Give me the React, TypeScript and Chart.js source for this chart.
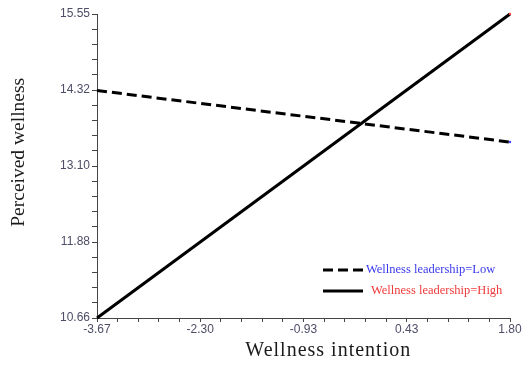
import React, { useEffect, useRef } from "react";
import { Chart, registerables } from "chart.js";

Chart.register(...registerables);

const xValues = [-3.67, 1.8];
const lowValues = [14.32, 13.49];
const highValues = [10.66, 15.55];
const seriesLabels = ["Wellness leadership=Low", "Wellness leadership=High"];
const xTickLabels = ["-3.67", "-2.30", "-0.93", "0.43", "1.80"];
const yTickLabels = ["10.66", "11.88", "13.10", "14.32", "15.55"];
const xTitle = "Wellness intention";
const yTitle = "Perceived wellness";

const xMin = -3.67;
const xMax = 1.8;
const yMin = 10.66;
const yMax = 15.55;

function buildTicks(min: number, max: number) {
  const out: { value: number }[] = [];
  for (let i = 0; i <= 20; i++) out.push({ value: min + ((max - min) * i) / 20 });
  return out;
}

const overlayPlugin = {
  id: "overlay",
  afterDraw(chart: any) {
    const { ctx, chartArea: a } = chart;
    ctx.save();
    // axis titles
    ctx.fillStyle = "#1a1a1a";
    ctx.font = '20px "Liberation Serif"';
    ctx.textAlign = "center";
    ctx.textBaseline = "middle";
    (ctx as any).letterSpacing = "1px";
    ctx.fillText(xTitle, a.left + (a.right - a.left) * 0.56, 351);
    (ctx as any).letterSpacing = "0px";
    ctx.save();
    ctx.translate(19, a.top + (a.bottom - a.top) * 0.455);
    ctx.rotate(-Math.PI / 2);
    ctx.font = '19.5px "Liberation Serif"';
    ctx.fillText(yTitle, 0, 0);
    ctx.restore();

    // legend
    const colors = ["#3a3aee", "#ee3a3a"];
    const rows = [270, 291];
    const textX = [366, 371];
    ctx.textAlign = "left";
    ctx.font = '12.5px "Liberation Serif"';
    chart.data.datasets.forEach((ds: any, i: number) => {
      const y = rows[i];
      ctx.beginPath();
      ctx.setLineDash(ds.borderDash || []);
      ctx.lineWidth = 3;
      ctx.strokeStyle = "#000";
      ctx.moveTo(323, y);
      ctx.lineTo(363, y);
      ctx.stroke();
      ctx.setLineDash([]);
      ctx.fillStyle = colors[i];
      ctx.fillText(ds.label, textX[i], y);
    });
    ctx.restore();
  },
};

export default function App() {
  const ref = useRef<HTMLCanvasElement | null>(null);
  useEffect(() => {
    if (!ref.current) return;
    const tickFont = { family: '"Liberation Sans", Arial, sans-serif', size: 12 };
    const chart = new Chart(ref.current, {
      type: "scatter",
      data: {
        datasets: [
          {
            label: seriesLabels[0],
            data: xValues.map((x, i) => ({ x, y: lowValues[i] })),
            showLine: true,
            borderColor: "#000",
            borderWidth: 3,
            borderDash: [10, 5],
            pointRadius: (c: any) => (c.dataIndex === 1 ? 1.2 : 0),
            pointBackgroundColor: "#4040ff",
            pointBorderWidth: 0,
            clip: false,
          } as any,
          {
            label: seriesLabels[1],
            data: xValues.map((x, i) => ({ x, y: highValues[i] })),
            showLine: true,
            borderColor: "#000",
            borderWidth: 3,
            pointRadius: (c: any) => (c.dataIndex === 1 ? 1.2 : 0),
            pointBackgroundColor: "#ff4040",
            pointBorderWidth: 0,
            clip: false,
          } as any,
        ],
      },
      options: {
        animation: false,
        responsive: false,
        maintainAspectRatio: false,
        layout: { padding: { left: 0, right: 17, top: 14, bottom: 0 } },
        plugins: { legend: { display: false }, tooltip: { enabled: false } },
        scales: {
          x: {
            type: "linear",
            min: xMin,
            max: xMax,
            afterBuildTicks: (s: any) => {
              s.ticks = buildTicks(xMin, xMax);
            },
            afterFit: (s: any) => {
              s.height = 47;
            },
            border: { display: true, color: "#444", width: 1 },
            grid: {
              display: true,
              drawOnChartArea: false,
              drawTicks: true,
              tickLength: 4,
              color: "#444",
            },
            ticks: {
              autoSkip: false,
              maxRotation: 0,
              padding: 0,
              color: "#4d4d66",
              font: tickFont,
              callback: (_v: any, i: number) => (i % 5 === 0 ? xTickLabels[i / 5] : ""),
            },
          },
          y: {
            type: "linear",
            min: yMin,
            max: yMax,
            afterBuildTicks: (s: any) => {
              s.ticks = buildTicks(yMin, yMax);
            },
            afterFit: (s: any) => {
              s.width = 97;
            },
            border: { display: true, color: "#444", width: 1 },
            grid: {
              display: true,
              drawOnChartArea: false,
              drawTicks: true,
              tickLength: 5,
              color: "#444",
            },
            ticks: {
              autoSkip: false,
              padding: 2,
              color: "#4d4d66",
              font: tickFont,
              callback: (_v: any, i: number) => (i % 5 === 0 ? yTickLabels[i / 5] : ""),
            },
          },
        },
      },
      plugins: [overlayPlugin],
    } as any);
    return () => chart.destroy();
  }, []);
  return (
    <div style={{ position: "fixed", left: 0, top: 0, width: 527, height: 365, background: "#fff" }}>
      <canvas ref={ref} width={527} height={365} style={{ width: 527, height: 365, display: "block" }} />
    </div>
  );
}
